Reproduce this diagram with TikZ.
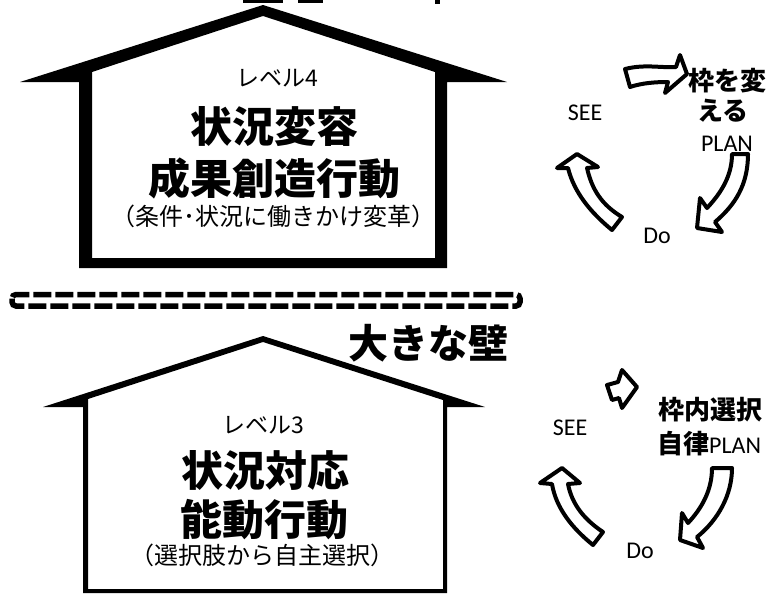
\documentclass[tikz,border=0pt]{standalone}
\usepackage{fontspec}
\newfontfamily\jp{Noto Sans CJK JP}
\newfontfamily\lat{Carlito}
\begin{document}
\begin{tikzpicture}[x=1pt,y=-1pt,
  txt/.style={inner sep=0pt,anchor=center,text=black},
  big/.style={txt,font=\jp\bfseries\fontsize{42}{44}\selectfont},
  small/.style={txt,font=\jp\fontsize{24}{26}\selectfont},
  lvl/.style={txt,font=\jp\fontsize{23}{25}\selectfont},
  cyc/.style={txt,font=\lat\fontsize{24}{26}\selectfont},
  cycj/.style={txt,font=\jp\bfseries\fontsize{26}{28}\selectfont},
  blk/.style={draw=black,line width=4pt,fill=white,line join=round},
  house/.style={fill=black,even odd rule}]
\useasboundingbox (0,0) rectangle (767,595);
\fill[white] (0,0) rectangle (767,595);
% fragments at the top edge
\fill (243,0) rectangle (283,3);
\fill (298,0) rectangle (323,3);
\fill (435,0) rectangle (440,4);
% upper house
\fill[house] (20,82) -- (263,5) -- (507,82) -- (447,82) -- (447,268) -- (79,268) -- (79,82) -- cycle
  (92,72) -- (263,16) -- (435,72) -- (435,258) -- (92,258) -- cycle;
% lower house
\fill[house] (43,407) -- (263,336) -- (485,407) -- (447,407) -- (447,593) -- (83,593) -- (83,407) -- cycle
  (88,399) -- (263,342) -- (443,400) -- (443,589) -- (88,589) -- cycle;
% wall
\draw[line width=5.5pt,dash pattern=on 18pt off 4pt,rounded corners=4pt] (12,294.5) rectangle (520,306);
% texts in houses
\node[lvl] (l4) at (277,78) {レベル4};
\node[big] (t4a) at (274,127) {状況変容};
\node[big] (t4b) at (274,178) {成果創造行動};
\node[small] (t4c) at (273,216) {（条件･状況に働きかけ変革）};
\node[txt,font=\jp\bfseries\fontsize{40}{42}\selectfont] (wall) at (428,343) {大きな壁};
\node[lvl] (l3) at (263,425) {レベル3};
\node[big] (t3a) at (265,471) {状況対応};
\node[big] (t3b) at (264,520) {能動行動};
\node[small] (t3c) at (262,555) {（選択肢から自主選択）};
% upper cycle
\node[cyc] (see1) at (585,113) {SEE};
\node[cyc] (plan1) at (727,144) {PLAN};
\node[cyc] (do1) at (657,236) {Do};
\node[cycj] (ch1a) at (727,81) {枠を変};
\node[cycj] (ch1b) at (723,111) {える};
\draw[blk] (625,69) .. controls (645,64) and (660,68) .. (676,67) -- (680,55) -- (687,74) -- (665,93) -- (668,82) .. controls (655,82) and (642,83) .. (630,87) -- cycle;
\draw[blk] (732,154) -- (748,154) .. controls (748,185) and (735,205) .. (715,222) -- (722,232) -- (697,228) -- (700,198) -- (707,208) .. controls (722,192) and (732,175) .. (732,154) -- cycle;
\draw[blk] (577,154) -- (598,167) -- (587,168) .. controls (592,190) and (602,205) .. (622,217) -- (612,230) .. controls (590,212) and (574,192) .. (568,168) -- (557,168) -- cycle;
% lower cycle
\node[cyc] (see2) at (570,428) {SEE};
\node[cyc] (do2) at (640,551) {Do};
\node[cycj] (ch2a) at (710,410) {枠内選択};
\node[txt,anchor=west] (ch2b) at (657,444) {{\jp\bfseries\fontsize{26}{28}\selectfont 自律}{\lat\fontsize{24}{26}\selectfont PLAN}};
\draw[blk] (622,370) -- (637,387) -- (622,408) -- (619,398) -- (612,400) -- (607,385) -- (618,382) -- cycle;
\draw[blk] (712,468) -- (732,468) .. controls (732,495) and (718,520) .. (697,537) -- (703,548) -- (680,540) -- (682,513) -- (688,523) .. controls (702,508) and (712,490) .. (712,468) -- cycle;
\draw[blk] (562,468) -- (580,483) -- (568,484) .. controls (572,505) and (585,520) .. (603,532) -- (593,545) .. controls (572,528) and (556,508) .. (552,484) -- (540,483) -- cycle;
\end{tikzpicture}
\end{document}
